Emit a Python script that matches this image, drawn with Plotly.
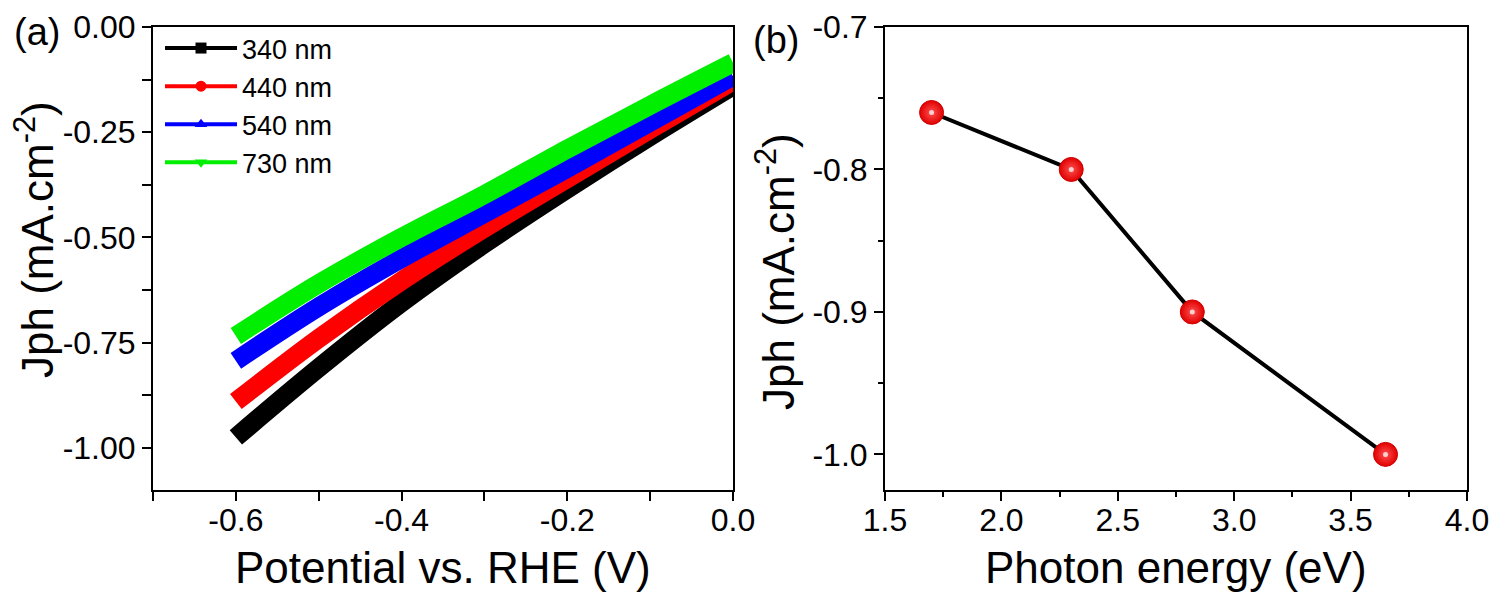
import plotly.graph_objects as go

# ---------------- data ----------------
# Panel (a): photocurrent vs potential for four wavelengths
potential = [-0.6, -0.5, -0.4, -0.3, -0.2, -0.1, 0.0]
j_340 = [-0.975, -0.810, -0.655, -0.515, -0.385, -0.260, -0.140]
j_440 = [-0.890, -0.740, -0.603, -0.478, -0.360, -0.243, -0.128]
j_540 = [-0.793, -0.665, -0.550, -0.443, -0.336, -0.226, -0.117]
j_730 = [-0.734, -0.610, -0.500, -0.398, -0.290, -0.186, -0.085]
series_names = ["340 nm", "440 nm", "540 nm", "730 nm"]
series_colors = ["#000000", "#ff0000", "#0000ff", "#00ee00"]
series_symbols = ["square", "circle", "triangle-up", "triangle-down"]

# Panel (b): photocurrent vs photon energy
photon_energy = [1.70, 2.30, 2.82, 3.65]
jph_b = [-0.76, -0.80, -0.90, -1.00]

# tick labels
xa_tickvals = [-0.6, -0.4, -0.2, 0.0]
xa_ticktext = ["-0.6", "-0.4", "-0.2", "0.0"]
xa_minor = [-0.7, -0.5, -0.3, -0.1]
ya_tickvals = [0.0, -0.25, -0.5, -0.75, -1.0]
ya_ticktext = ["0.00", "-0.25", "-0.50", "-0.75", "-1.00"]
ya_minor = [-0.125, -0.375, -0.625, -0.875]
xb_tickvals = [1.5, 2.0, 2.5, 3.0, 3.5, 4.0]
xb_ticktext = ["1.5", "2.0", "2.5", "3.0", "3.5", "4.0"]
xb_minor = [1.75, 2.25, 2.75, 3.25, 3.75]
yb_tickvals = [-0.7, -0.8, -0.9, -1.0]
yb_ticktext = ["-0.7", "-0.8", "-0.9", "-1.0"]
yb_minor = [-0.75, -0.85, -0.95]

FONT = "Arial, 'Liberation Sans', sans-serif"
OFF = 8                      # default page body margin
W, H = 1500 - OFF, 598 - OFF
TOP = 27                     # top edge of both frames (screen px)

fig = go.Figure()

all_j = [j_340, j_440, j_540, j_730]
for name, ys, col in zip(series_names, all_j, series_colors):
    fig.add_trace(go.Scatter(
        x=potential, y=ys, mode="lines", line=dict(color=col, width=19, shape="spline"),
        showlegend=False, xaxis="x", yaxis="y", hoverinfo="skip"))
for name, col, sym in zip(series_names, series_colors, series_symbols):
    fig.add_trace(go.Scatter(
        x=[None], y=[None], mode="lines+markers", name=name,
        line=dict(color=col, width=4), marker=dict(symbol=sym, size=11, color=col),
        xaxis="x", yaxis="y"))

# panel b
fig.add_trace(go.Scatter(
    x=photon_energy, y=jph_b, mode="lines", line=dict(color="black", width=4),
    showlegend=False, xaxis="x2", yaxis="y2"))
fig.add_trace(go.Scatter(
    x=photon_energy, y=jph_b, mode="markers",
    marker=dict(symbol="circle", size=24, color="#e00000",
                gradient=dict(type="radial", color="#ff5050"),
                line=dict(color="#d00000", width=1)),
    showlegend=False, xaxis="x2", yaxis="y2"))
fig.add_trace(go.Scatter(
    x=photon_energy, y=jph_b, mode="markers",
    marker=dict(symbol="circle", size=5, color="#ffd0d0", line=dict(width=0)),
    showlegend=False, xaxis="x2", yaxis="y2"))

# layout geometry (screen pixels -> paper)
def px(x):
    return (x - OFF) / W

def py(y):
    return 1 - (y - OFF) / H

ax_common = dict(showline=True, linecolor="black", linewidth=2, mirror=True,
                 ticks="outside", ticklen=9, tickwidth=2, tickcolor="black",
                 showgrid=False, zeroline=False, ticklabeloverflow="allow",
                 tickfont=dict(family=FONT, size=32, color="black"),
                 automargin=False)

fig.update_layout(
    width=W, height=H,
    margin=dict(l=0, r=0, t=0, b=0),
    paper_bgcolor="white", plot_bgcolor="white",
    font=dict(family=FONT, color="black"),
    xaxis=dict(domain=[px(153), px(733)], range=[-0.7, 0.0], anchor="y",
               tickmode="array", tickvals=xa_tickvals, ticktext=xa_ticktext,
               ticklabelstandoff=-8,
               minor=dict(tickvals=xa_minor, ticks="outside", ticklen=9, tickwidth=2,
                          tickcolor="black"),
               **ax_common),
    yaxis=dict(domain=[py(490), py(TOP)], range=[-1.1, 0.0], anchor="x",
               tickmode="array", tickvals=ya_tickvals, ticktext=ya_ticktext,
               minor=dict(tickvals=ya_minor, ticks="outside", ticklen=9, tickwidth=2,
                          tickcolor="black"),
               **ax_common),
    xaxis2=dict(domain=[px(885), px(1467)], range=[1.5, 4.0], anchor="y2",
                tickmode="array", tickvals=xb_tickvals, ticktext=xb_ticktext,
                ticklabelstandoff=-8,
                minor=dict(tickvals=xb_minor, ticks="outside", ticklen=5, tickwidth=2,
                           tickcolor="black"),
                **ax_common),
    yaxis2=dict(domain=[py(490), py(TOP)], range=[-1.025, -0.7], anchor="x2",
                tickmode="array", tickvals=yb_tickvals, ticktext=yb_ticktext,
                minor=dict(tickvals=yb_minor, ticks="outside", ticklen=5, tickwidth=2,
                           tickcolor="black"),
                **ax_common),
    legend=dict(x=px(160), y=py(24), xanchor="left", yanchor="top",
                bgcolor="rgba(0,0,0,0)", borderwidth=0, itemwidth=72,
                font=dict(family=FONT, size=27, color="black"),
                tracegroupgap=0),
    showlegend=True,
)

annots = [
    dict(text="Potential vs. RHE (V)", x=px(443), y=py(567), size=44, angle=0),
    dict(text="Photon energy (eV)", x=px(1176), y=py(567), size=44, angle=0),
    dict(text="Jph (mA.cm<sup>-2</sup>)", x=px(34), y=py(240), size=44, angle=-90),
    dict(text="Jph (mA.cm<sup>-2</sup>)", x=px(775), y=py(271), size=44, angle=-90),
    dict(text="(a)", x=px(37), y=py(32), size=38, angle=0),
    dict(text="(b)", x=px(776), y=py(40), size=38, angle=0),
]
for a in annots:
    fig.add_annotation(text=a["text"], x=a["x"], y=a["y"], xref="paper", yref="paper",
                       xanchor="center", yanchor="middle", showarrow=False,
                       textangle=a["angle"],
                       font=dict(family=FONT, size=a["size"], color="black"))

fig.write_html("out.html")
